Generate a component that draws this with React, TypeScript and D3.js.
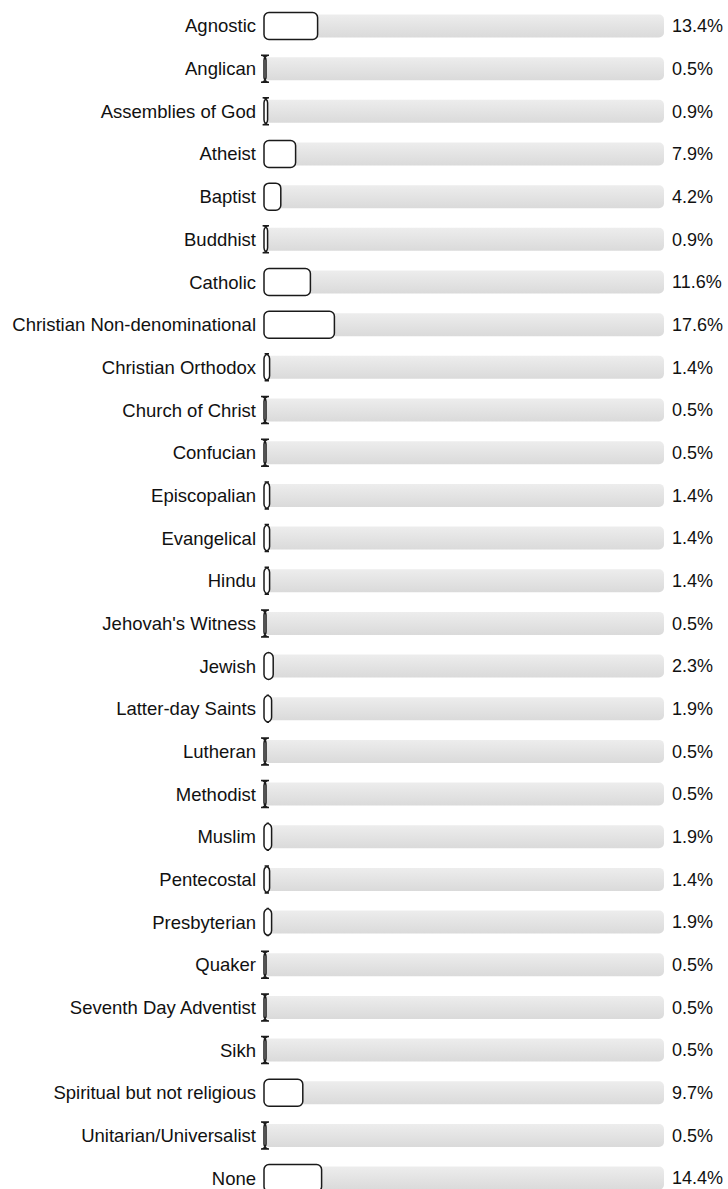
import React from 'react';
import * as d3 from 'd3';

const categories = [
  'Agnostic', 'Anglican', 'Assemblies of God', 'Atheist', 'Baptist', 'Buddhist',
  'Catholic', 'Christian Non-denominational', 'Christian Orthodox', 'Church of Christ',
  'Confucian', 'Episcopalian', 'Evangelical', 'Hindu', "Jehovah's Witness", 'Jewish',
  'Latter-day Saints', 'Lutheran', 'Methodist', 'Muslim', 'Pentecostal', 'Presbyterian',
  'Quaker', 'Seventh Day Adventist', 'Sikh', 'Spiritual but not religious',
  'Unitarian/Universalist', 'None',
];

const percents = [
  13.4, 0.5, 0.9, 7.9, 4.2, 0.9, 11.6, 17.6, 1.4, 0.5, 0.5, 1.4, 1.4, 1.4, 0.5, 2.3,
  1.9, 0.5, 0.5, 1.9, 1.4, 1.9, 0.5, 0.5, 0.5, 9.7, 0.5, 14.4,
];

const W = 728;
const H = 1189;

// rounded rect drawn as a path whose corner radius is not clamped,
// so very thin bars get the flared "I" caps
const roundedBar = (x: number, y: number, w: number, h: number, r: number) =>
  `M${x + r},${y} l${w - 2 * r},0 a${r},${r} 0 0 1 ${r},${r} l0,${h - 2 * r} ` +
  `a${r},${r} 0 0 1 ${-r},${r} l${2 * r - w},0 a${r},${r} 0 0 1 ${-r},${-r} ` +
  `l0,${2 * r - h} a${r},${r} 0 0 1 ${r},${-r} z`;

const App: React.FC = () => {
  const step = 42.67;
  const y = d3.scaleBand<string>()
    .domain(categories)
    .range([4.67, 4.67 + step * categories.length])
    .paddingInner(0)
    .paddingOuter(0);

  const x = d3.scaleLinear().domain([0, 100]).range([264, 664]);

  const fgH = 27;
  const bgH = 23;
  const font = 'Arial, "Liberation Sans", sans-serif';

  return (
    <svg width={W} height={H} style={{ position: 'absolute', left: 0, top: 0 }}>
      <defs>
        <linearGradient id="track" x1="0" y1="0" x2="0" y2="1">
          <stop offset="0%" stopColor="#ededed" />
          <stop offset="100%" stopColor="#dadada" />
        </linearGradient>
      </defs>
      {categories.map((c, i) => {
        const cy = (y(c) as number) + y.bandwidth() / 2;
        const v = percents[i];
        return (
          <g key={c}>
            <text
              x={256}
              y={cy}
              dy="0.35em"
              textAnchor="end"
              fontFamily={font}
              fontSize={18.5}
              fill="#111"
            >
              {c}
            </text>
            <rect
              x={x(0)}
              y={cy - bgH / 2}
              width={x(100) - x(0)}
              height={bgH}
              rx={5}
              ry={5}
              fill="url(#track)"
            />
            <path
              d={roundedBar(x(0), cy - fgH / 2, x(v) - x(0), fgH, 5)}
              fill="#fff"
              stroke="#1a1a1a"
              strokeWidth={1.5}
            />
            <text
              x={672}
              y={cy}
              dy="0.35em"
              fontFamily={font}
              fontSize={18}
              fill="#111"
            >
              {`${v}%`}
            </text>
          </g>
        );
      })}
    </svg>
  );
};

export default App;
